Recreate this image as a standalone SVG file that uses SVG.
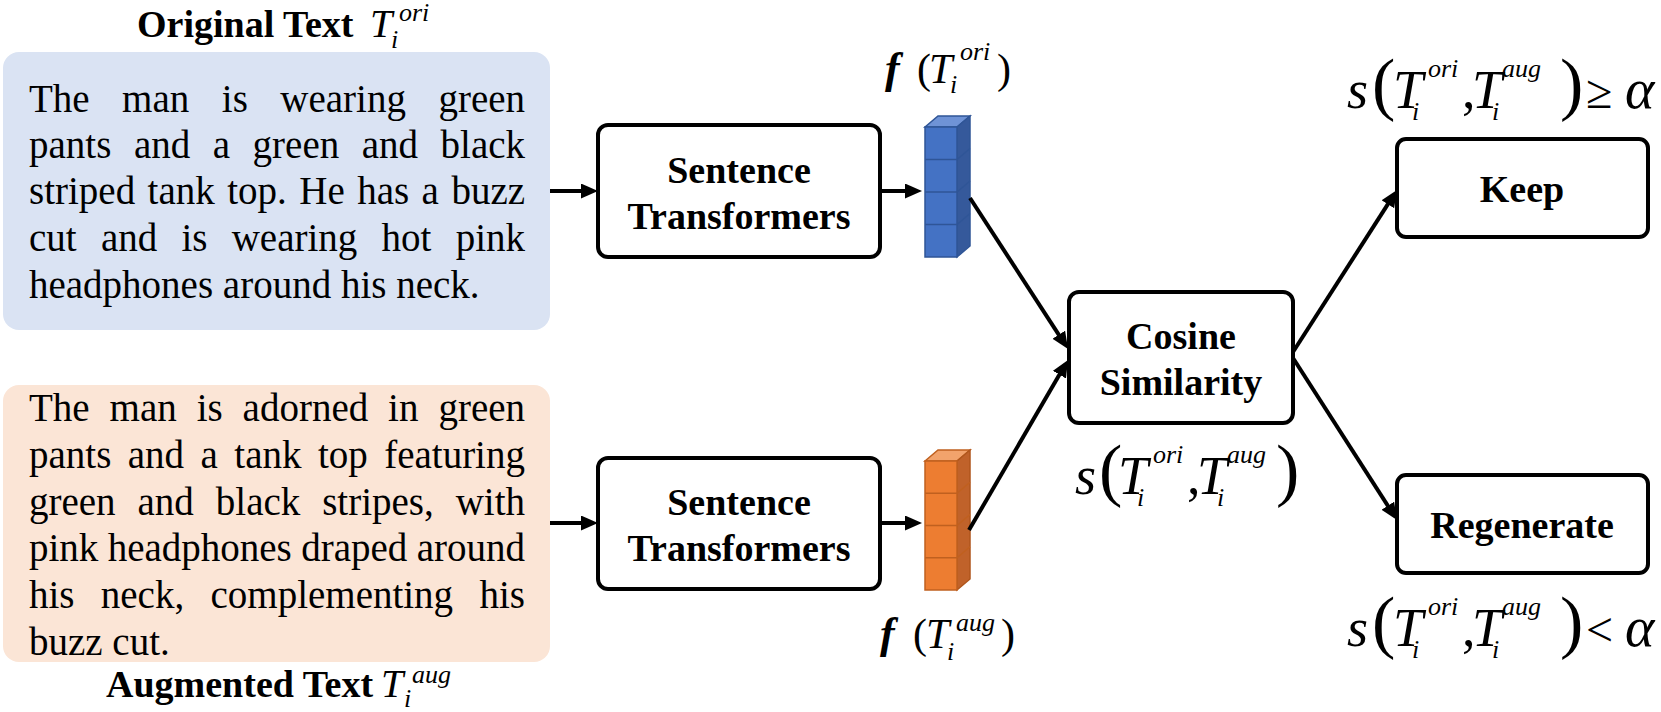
<svg xmlns="http://www.w3.org/2000/svg" width="1661" height="712" viewBox="0 0 1661 712">
<style>
text{font-family:"Liberation Serif","Times New Roman",serif;fill:#000}
.body{font-size:39px}
.b{font-weight:bold;font-size:38px}
.bc{font-weight:bold;font-size:38px;text-anchor:middle}
.mi{font-style:italic;font-size:54px}
.al{font-style:italic;font-size:56px}
.mi40{font-style:italic;font-size:40px}
.mi42{font-style:italic;font-size:42px}
.sc{font-style:italic;font-size:26px}
.par{font-size:70px}
.par42{font-size:42px}
.rm{font-size:54px}
.rel{font-size:48px}
.fb{font-style:italic;font-weight:bold;font-size:44px}
.box{fill:#fff;stroke:#000;stroke-width:4}
.conn{stroke:#000;stroke-width:4;fill:none;marker-end:url(#ah)}
.bf{fill:#4472C4;stroke:#2F5597;stroke-width:1.5}
.bt{fill:#6F93D6;stroke:#2F5597;stroke-width:1.5}
.bs{fill:#35599B;stroke:#2F5597;stroke-width:1.5}
.of{fill:#ED7D31;stroke:#C0601F;stroke-width:1.5}
.ot{fill:#F2A36C;stroke:#C0601F;stroke-width:1.5}
.os{fill:#C0622A;stroke:#B0561C;stroke-width:1.5}
</style>
<defs>
<marker id="ah" markerUnits="userSpaceOnUse" markerWidth="18" markerHeight="16" refX="7" refY="7.5" orient="auto">
<path d="M0,0 L17,7.5 L0,15 z" fill="#000"/>
</marker>
</defs>

<g id="original-text">
<text class="b" x="137" y="37">Original Text</text>
<text class="mi40" x="370" y="37">T</text>
<text class="sc" x="399" y="21">ori</text>
<text class="sc" x="391" y="48">i</text>
<rect x="3" y="52" width="547" height="278" rx="16" fill="#DAE3F3"/>
<text class="body">
<tspan x="29" y="112">The</tspan><tspan x="122.1" y="112">man</tspan><tspan x="221.8" y="112">is</tspan><tspan x="280.3" y="112">wearing</tspan><tspan x="438.4" y="112">green</tspan>
<tspan x="29" y="158">pants</tspan><tspan x="133.9" y="158">and</tspan><tspan x="212.7" y="158">a</tspan><tspan x="252.6" y="158">green</tspan><tspan x="361.7" y="158">and</tspan><tspan x="440.6" y="158">black</tspan>
<tspan x="29" y="204">striped</tspan><tspan x="147.6" y="204">tank</tspan><tspan x="227.2" y="204">top.</tspan><tspan x="299.3" y="204">He</tspan><tspan x="357.2" y="204">has</tspan><tspan x="421.6" y="204">a</tspan><tspan x="451.4" y="204">buzz</tspan>
<tspan x="29" y="251">cut</tspan><tspan x="100.9" y="251">and</tspan><tspan x="181.5" y="251">is</tspan><tspan x="231.7" y="251">wearing</tspan><tspan x="381.6" y="251">hot</tspan><tspan x="455.7" y="251">pink</tspan>
<tspan x="29" y="298">headphones around his neck.</tspan>
</text>
</g>

<g id="augmented-text">
<rect x="3" y="385" width="547" height="277" rx="16" fill="#FBE5D6"/>
<text class="body">
<tspan x="29" y="421">The</tspan><tspan x="109.6" y="421">man</tspan><tspan x="196.7" y="421">is</tspan><tspan x="242.6" y="421">adorned</tspan><tspan x="388.1" y="421">in</tspan><tspan x="438.4" y="421">green</tspan>
<tspan x="29" y="468">pants</tspan><tspan x="127.8" y="468">and</tspan><tspan x="200.6" y="468">a</tspan><tspan x="234.3" y="468">tank</tspan><tspan x="317.9" y="468">top</tspan><tspan x="384.2" y="468">featuring</tspan>
<tspan x="29" y="515">green</tspan><tspan x="137.5" y="515">and</tspan><tspan x="215.8" y="515">black</tspan><tspan x="322.2" y="515">stripes,</tspan><tspan x="455.7" y="515">with</tspan>
<tspan x="29" y="561">pink</tspan><tspan x="107.7" y="561">headphones</tspan><tspan x="301.2" y="561">draped</tspan><tspan x="416.7" y="561">around</tspan>
<tspan x="29" y="608">his</tspan><tspan x="100.8" y="608">neck,</tspan><tspan x="210.5" y="608">complementing</tspan><tspan x="479.5" y="608">his</tspan>
<tspan x="29" y="655">buzz cut.</tspan>
</text>
<text class="b" x="106" y="697">Augmented Text</text>
<text class="mi40" x="381" y="697">T</text>
<text class="sc" x="412" y="683">aug</text>
<text class="sc" x="404" y="707">i</text>
</g>

<g id="st1">
<rect class="box" x="598" y="125" width="282" height="132" rx="10"/>
<text class="bc" x="739" y="183">Sentence</text>
<text class="bc" x="739" y="229">Transformers</text>
</g>

<g id="st2">
<rect class="box" x="598" y="458" width="282" height="131" rx="10"/>
<text class="bc" x="739" y="515">Sentence</text>
<text class="bc" x="739" y="561">Transformers</text>
</g>

<g id="emb-ori">
<polygon class="bt" points="925,127 938,116 970,116 957,127"/>
<polygon class="bs" points="957,127 970,116 970,246 957,257"/>
<rect class="bf" x="925" y="127" width="32" height="130"/>
<path d="M925,159.5 H957 L970,148.5 M925,192 H957 L970,181 M925,224.5 H957 L970,213.5" stroke="#2F5597" stroke-width="1.5" fill="none"/>
<text class="fb" x="885" y="83">f</text>
<text class="par42" x="917" y="83">(</text>
<text class="mi42" x="929" y="83">T</text>
<text class="sc" x="960" y="60">ori</text>
<text class="sc" x="950" y="93">i</text>
<text class="par42" x="997" y="83">)</text>
</g>

<g id="emb-aug">
<polygon class="ot" points="925,461 938,450 970,450 957,461"/>
<polygon class="os" points="957,461 970,450 970,579 957,590"/>
<rect class="of" x="925" y="461" width="32" height="129"/>
<path d="M925,493.3 H957 L970,482.3 M925,525.5 H957 L970,514.5 M925,557.8 H957 L970,546.8" stroke="#C0601F" stroke-width="1.5" fill="none"/>
<text class="fb" x="880" y="648">f</text>
<text class="par42" x="913" y="648">(</text>
<text class="mi42" x="926" y="648">T</text>
<text class="sc" x="956" y="631">aug</text>
<text class="sc" x="947" y="660">i</text>
<text class="par42" x="1001" y="648">)</text>
</g>

<g id="cosine">
<rect class="box" x="1069" y="292" width="224" height="131" rx="10"/>
<text class="bc" x="1181" y="349">Cosine</text>
<text class="bc" x="1181" y="395">Similarity</text>
<text class="mi" x="1075" y="494">s</text>
<text class="par" x="1099" y="493">(</text>
<text class="mi" x="1118" y="494">T</text>
<text class="sc" x="1137" y="506">i</text>
<text class="sc" x="1153" y="463">ori</text>
<text class="rm" x="1187" y="494">,</text>
<text class="mi" x="1197" y="494">T</text>
<text class="sc" x="1217" y="506">i</text>
<text class="sc" x="1227" y="463">aug</text>
<text class="par" x="1276" y="493">)</text>
</g>

<g id="keep">
<rect class="box" x="1397" y="139" width="251" height="98" rx="9"/>
<text class="bc" x="1522" y="202">Keep</text>
<text class="mi" x="1347" y="108">s</text>
<text class="par" x="1372" y="107">(</text>
<text class="mi" x="1393" y="108">T</text>
<text class="sc" x="1412" y="120">i</text>
<text class="sc" x="1428" y="77">ori</text>
<text class="rm" x="1462" y="108">,</text>
<text class="mi" x="1472" y="108">T</text>
<text class="sc" x="1492" y="120">i</text>
<text class="sc" x="1502" y="77">aug</text>
<text class="par" x="1560" y="107">)</text>
<text class="rel" x="1586" y="108">≥</text>
<text class="al" x="1625" y="108">α</text>
</g>

<g id="regenerate">
<rect class="box" x="1397" y="475" width="251" height="98" rx="9"/>
<text class="bc" x="1522" y="538">Regenerate</text>
<text class="mi" x="1347" y="646">s</text>
<text class="par" x="1372" y="645">(</text>
<text class="mi" x="1393" y="646">T</text>
<text class="sc" x="1412" y="658">i</text>
<text class="sc" x="1428" y="615">ori</text>
<text class="rm" x="1462" y="646">,</text>
<text class="mi" x="1472" y="646">T</text>
<text class="sc" x="1492" y="658">i</text>
<text class="sc" x="1502" y="615">aug</text>
<text class="par" x="1560" y="645">)</text>
<text class="rel" x="1586" y="646">&lt;</text>
<text class="al" x="1625" y="646">α</text>
</g>

<g id="connectors">
<line class="conn" x1="550" y1="191" x2="588" y2="191"/>
<line class="conn" x1="880" y1="191" x2="912" y2="191"/>
<line class="conn" x1="550" y1="523" x2="588" y2="523"/>
<line class="conn" x1="880" y1="523" x2="912" y2="523"/>
<line class="conn" x1="970" y1="198" x2="1062.6" y2="340.6"/>
<line class="conn" x1="969" y1="530" x2="1063" y2="368.6"/>
<line class="conn" x1="1293" y1="352" x2="1391.6" y2="198.4"/>
<line class="conn" x1="1293" y1="358" x2="1391.6" y2="511.6"/>
</g>
</svg>
